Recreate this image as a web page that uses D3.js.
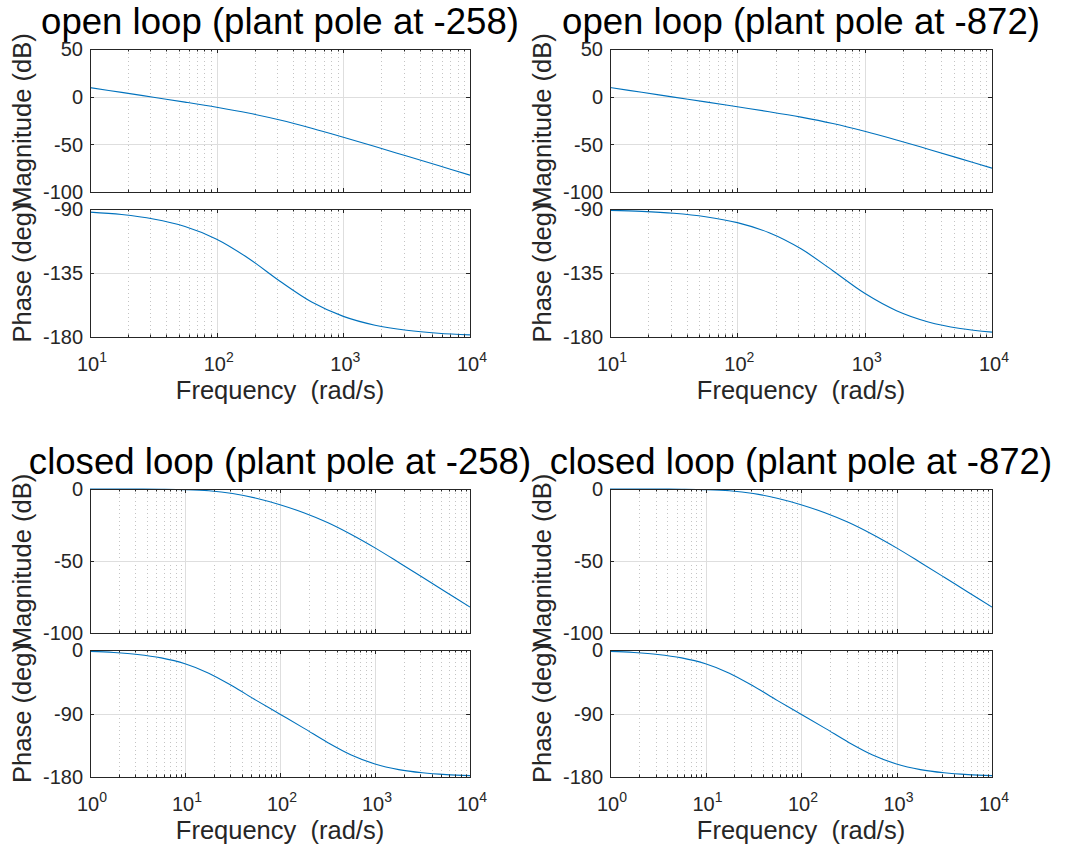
<!DOCTYPE html>
<html>
<head>
<meta charset="utf-8">
<script src="https://cdn.jsdelivr.net/npm/d3@7"></script>
<style>
  body { margin: 0; background: #fff; }
  svg { display: block; }
  text { font-family: "Liberation Sans", Arial, Helvetica, sans-serif; white-space: pre; }
</style>
</head>
<body>
<svg id="fig" width="1067" height="853"></svg>
<script>
// Frequency grids (rad/s), quarter-decade steps
const openFreq = [10, 17.78, 31.62, 56.23, 100, 177.8, 316.2, 562.3, 1000, 1778, 3162, 5623, 10000];
const closedFreq = [1, 1.778, 3.162, 5.623, 10, 17.78, 31.62, 56.23, 100, 177.8, 316.2, 562.3, 1000, 1778, 3162, 5623, 10000];

// Open loop, plant pole at -258
const openMag258 = [9.5, 4.5, -0.6, -5.7, -11.1, -17.2, -24.5, -33.1, -42.5, -52.3, -62.3, -72.3, -82.3];
const openPhase258 = [-92.2, -93.9, -97.0, -102.3, -111.2, -124.6, -140.8, -155.4, -165.5, -171.7, -175.3, -177.4, -178.5];

// Open loop, plant pole at -872
const openMag872 = [9.6, 4.6, -0.5, -5.5, -10.6, -15.8, -21.5, -28.2, -36.3, -45.4, -55.1, -65.0, -75.0];
const openPhase872 = [-91.0, -91.7, -93.0, -95.4, -99.6, -106.7, -118.0, -133.4, -149.3, -161.5, -169.4, -174.0, -176.6];

// Closed loop, plant pole at -258
const closedMag258 = [0.0, 0.0, -0.05, -0.14, -0.42, -1.2, -3.1, -6.4, -10.9, -16.5, -23.3, -31.6, -40.9, -51.0, -61.3, -71.7, -82.0];
const closedPhase258 = [-2.0, -3.6, -6.3, -11.2, -19.5, -32.8, -51.1, -71.4, -91.0, -110.7, -131.0, -148.8, -161.6, -169.5, -174.0, -176.6, -178.1];

// Closed loop, plant pole at -872
const closedMag872 = [0.0, 0.0, -0.05, -0.14, -0.42, -1.2, -3.1, -6.4, -10.9, -16.5, -23.3, -31.6, -40.9, -51.0, -61.3, -71.7, -82.0];
const closedPhase872 = [-2.0, -3.6, -6.3, -11.2, -19.5, -32.8, -51.1, -71.4, -91.0, -110.7, -131.0, -148.8, -161.6, -169.5, -174.0, -176.6, -178.1];

// Titles and axis text
const panelTitles = [
  "open loop (plant pole at -258)",
  "open loop (plant pole at -872)",
  "closed loop (plant pole at -258)",
  "closed loop (plant pole at -872)"
];
const magLabel = "Magnitude (dB)";
const phaseLabel = "Phase (deg)";
const freqLabel = "Frequency  (rad/s)";

// Tick values
const openMagTicks = [-100, -50, 0, 50];
const openPhaseTicks = [-180, -135, -90];
const closedMagTicks = [-100, -50, 0];
const closedPhaseTicks = [-180, -90, 0];
const openDecades = [1, 2, 3, 4];
const closedDecades = [0, 1, 2, 3, 4];

const svg = d3.select("#fig");
const axisColor = "#262626";
const lineColor = "#0072BD";

const columns = [{ x0: 90, x1: 470 }, { x0: 610, x1: 992 }];
const rows = [
  { mag: [49, 192], phase: [209, 337] },
  { mag: [489, 633], phase: [650, 777] }
];

let clipId = 0;

function drawAxes(opt) {
  const { x0, x1, y0, y1, decades, yDomain, yTicks, freq, values, xLabels } = opt;
  const x = d3.scaleLog().domain([Math.pow(10, decades[0]), Math.pow(10, decades[decades.length - 1])]).range([x0, x1]);
  const y = d3.scaleLinear().domain(yDomain).range([y1, y0]);
  const g = svg.append("g");

  // minor x grid (dotted)
  const minor = [];
  for (let i = 0; i < decades.length - 1; i++) {
    for (let m = 2; m <= 9; m++) minor.push(m * Math.pow(10, decades[i]));
  }
  const major = decades.map(d => Math.pow(10, d));

  g.selectAll(".mgrid").data(minor).join("line")
    .attr("x1", d => Math.round(x(d)) + 0.5).attr("x2", d => Math.round(x(d)) + 0.5)
    .attr("y1", y0).attr("y2", y1)
    .attr("stroke", "#c4c4c4").attr("stroke-width", 1).attr("stroke-dasharray", "1,3");

  // major grid
  g.selectAll(".xgrid").data(major).join("line")
    .attr("x1", d => Math.round(x(d)) + 0.5).attr("x2", d => Math.round(x(d)) + 0.5)
    .attr("y1", y0).attr("y2", y1)
    .attr("stroke", "#dedede").attr("stroke-width", 1);
  g.selectAll(".ygrid").data(yTicks).join("line")
    .attr("x1", x0).attr("x2", x1)
    .attr("y1", d => Math.round(y(d)) + 0.5).attr("y2", d => Math.round(y(d)) + 0.5)
    .attr("stroke", "#dedede").attr("stroke-width", 1);

  // response curve
  const id = "clip" + (clipId++);
  svg.append("clipPath").attr("id", id).append("rect")
    .attr("x", x0).attr("y", y0 - 1).attr("width", x1 - x0).attr("height", y1 - y0 + 2);
  const line = d3.line().x((d, i) => x(freq[i])).y(d => y(d)).curve(d3.curveCatmullRom.alpha(0.5));
  g.append("path").datum(values)
    .attr("d", line)
    .attr("fill", "none").attr("stroke", lineColor).attr("stroke-width", 1.1)
    .attr("clip-path", `url(#${id})`);

  // box
  g.append("rect").attr("x", x0 + 0.5).attr("y", y0 + 0.5)
    .attr("width", x1 - x0).attr("height", y1 - y0)
    .attr("fill", "none").attr("stroke", axisColor).attr("stroke-width", 1);

  // x ticks (inward, top & bottom)
  const tk = [];
  major.forEach(v => tk.push({ v, len: 4 }));
  minor.forEach(v => tk.push({ v, len: 2.5 }));
  tk.forEach(t => {
    const xp = Math.round(x(t.v)) + 0.5;
    g.append("line").attr("x1", xp).attr("x2", xp).attr("y1", y1).attr("y2", y1 - t.len)
      .attr("stroke", axisColor).attr("stroke-width", 1);
    g.append("line").attr("x1", xp).attr("x2", xp).attr("y1", y0).attr("y2", y0 + t.len)
      .attr("stroke", axisColor).attr("stroke-width", 1);
  });

  // y ticks (inward, left & right) + labels
  yTicks.forEach(v => {
    const yp = Math.round(y(v)) + 0.5;
    g.append("line").attr("x1", x0).attr("x2", x0 + 4).attr("y1", yp).attr("y2", yp)
      .attr("stroke", axisColor).attr("stroke-width", 1);
    g.append("line").attr("x1", x1).attr("x2", x1 - 4).attr("y1", yp).attr("y2", yp)
      .attr("stroke", axisColor).attr("stroke-width", 1);
    g.append("text").attr("x", x0 - 7).attr("y", y(v)).attr("dy", "0.36em")
      .attr("text-anchor", "end").attr("font-size", 20).attr("fill", axisColor)
      .text(v);
  });

  if (xLabels) {
    decades.forEach(d => {
      const t = g.append("text").attr("x", x(Math.pow(10, d)) + 2).attr("y", y1 + 34)
        .attr("text-anchor", "middle").attr("font-size", 20).attr("fill", axisColor);
      t.append("tspan").text("10");
      t.append("tspan").attr("dy", -9).attr("font-size", 14).text(d);
    });
  }
  return { x, y };
}

function drawPanel(col, row, title, decades, freq, mag, phase, magDomain, magTicks, phaseDomain, phaseTicks) {
  const c = columns[col], r = rows[row];
  drawAxes({ x0: c.x0, x1: c.x1, y0: r.mag[0], y1: r.mag[1], decades, yDomain: magDomain, yTicks: magTicks, freq, values: mag, xLabels: false });
  drawAxes({ x0: c.x0, x1: c.x1, y0: r.phase[0], y1: r.phase[1], decades, yDomain: phaseDomain, yTicks: phaseTicks, freq, values: phase, xLabels: true });

  const cx = (c.x0 + c.x1) / 2;
  svg.append("text").attr("x", cx).attr("y", r.mag[0] - 15)
    .attr("text-anchor", "middle").attr("font-size", 36.6).attr("fill", "#000")
    .text(title);

  const lx = c.x0 - 59;
  const my = (r.mag[0] + r.mag[1]) / 2;
  const py = (r.phase[0] + r.phase[1]) / 2;
  svg.append("text").attr("transform", `translate(${lx},${my}) rotate(-90)`)
    .attr("text-anchor", "middle").attr("font-size", 25.5).attr("fill", axisColor).text(magLabel);
  svg.append("text").attr("transform", `translate(${lx},${py}) rotate(-90)`)
    .attr("text-anchor", "middle").attr("font-size", 25.5).attr("fill", axisColor).text(phaseLabel);
  svg.append("text").attr("x", cx).attr("y", r.phase[1] + 62)
    .attr("text-anchor", "middle").attr("font-size", 25.5).attr("fill", axisColor).text(freqLabel);
}

drawPanel(0, 0, panelTitles[0], openDecades, openFreq, openMag258, openPhase258, [-100, 50], openMagTicks, [-180, -90], openPhaseTicks);
drawPanel(1, 0, panelTitles[1], openDecades, openFreq, openMag872, openPhase872, [-100, 50], openMagTicks, [-180, -90], openPhaseTicks);
drawPanel(0, 1, panelTitles[2], closedDecades, closedFreq, closedMag258, closedPhase258, [-100, 0], closedMagTicks, [-180, 0], closedPhaseTicks);
drawPanel(1, 1, panelTitles[3], closedDecades, closedFreq, closedMag872, closedPhase872, [-100, 0], closedMagTicks, [-180, 0], closedPhaseTicks);
</script>
</body>
</html>
